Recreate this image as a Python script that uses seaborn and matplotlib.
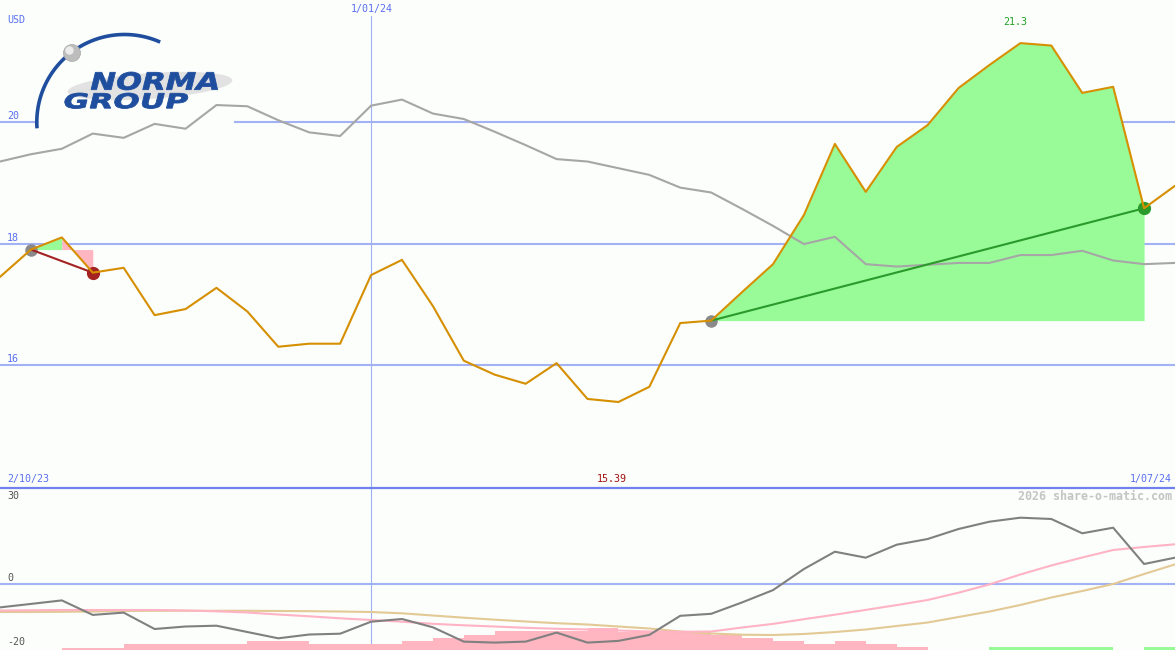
import numpy as np
import matplotlib
matplotlib.use("Agg")
import matplotlib.pyplot as plt
import seaborn as sns
from matplotlib.patches import Rectangle, Circle, Ellipse, PathPatch
from matplotlib.lines import Line2D
from matplotlib.textpath import TextPath
from matplotlib.font_manager import FontProperties
from matplotlib.transforms import Affine2D, IdentityTransform

# ---------------- data ----------------
weeks = np.arange(39)  # weekly points, 2/10/23 .. 1/07/24
price = [17.45, 17.90, 18.10, 17.52, 17.60, 16.82, 16.92, 17.27, 16.88, 16.30,
         16.35, 16.35, 17.48, 17.73, 16.97, 16.07, 15.84, 15.69, 16.03, 15.44,
         15.39, 15.64, 16.69, 16.73, 17.20, 17.66, 18.47, 19.64, 18.85, 19.59,
         19.95, 20.56, 20.94, 21.30, 21.26, 20.48, 20.58, 18.58, 18.95]
benchmark = [19.35, 19.47, 19.56, 19.81, 19.74, 19.97, 19.89, 20.28, 20.26, 20.03,
             19.83, 19.77, 20.27, 20.37, 20.14, 20.05, 19.84, 19.62, 19.39, 19.35,
             19.24, 19.13, 18.92, 18.84, 18.57, 18.29, 17.99, 18.11, 17.66, 17.62,
             17.65, 17.68, 17.68, 17.81, 17.81, 17.88, 17.72, 17.66, 17.68]
momentum = [-8.17, -6.97, -5.76, -10.76, -9.97, -15.62, -14.76, -14.48, -16.66, -18.83,
            -17.52, -17.24, -13.10, -12.17, -15.03, -19.97, -20.31, -19.97, -16.86, -20.31,
            -19.72, -17.66, -11.07, -10.38, -6.45, -2.21, 5.07, 11.03, 8.97, 13.45,
            15.41, 18.86, 21.38, 22.76, 22.31, 17.38, 19.31, 6.79, 8.97]
mom_fast = [-9.24, -9.17, -9.07, -9.07, -9.07, -9.07, -9.24, -9.52, -9.93, -10.62,
            -11.24, -11.93, -12.52, -13.10, -13.83, -14.34, -14.76, -15.21, -15.55, -15.79,
            -16.14, -16.48, -16.59, -16.48, -15.10, -13.86, -12.24, -10.69, -9.03, -7.38,
            -5.62, -3.10, -0.24, 3.17, 6.28, 9.03, 11.62, 12.66, 13.59]
mom_slow = [-9.76, -9.76, -9.69, -9.59, -9.41, -9.34, -9.34, -9.34, -9.34, -9.41,
            -9.48, -9.59, -9.76, -10.21, -10.97, -11.72, -12.41, -13.03, -13.62, -14.07,
            -14.76, -15.45, -16.48, -17.17, -17.59, -17.69, -17.34, -16.66, -15.79, -14.59,
            -13.38, -11.48, -9.59, -7.34, -4.76, -2.52, -0.10, 3.34, 6.66]
# signal bars, one per week interval (negative = pink, positive = green)
signal = [0, 0, -0.8, -0.8, -2.1, -2.1, -2.1, -2.1, -3.1, -3.1,
          -2.1, -2.1, -2.1, -3.1, -4.0, -5.2, -6.7, -6.7, -6.7, -7.7,
          -6.3, -6.3, -6.3, -5.2, -4.2, -3.1, -2.1, -3.1, -2.1, -0.9,
          0, 0, 0.9, 0.9, 0.9, 0.9, 0, 0.9]
price_ticks = [20, 18, 16]
osc_ticks = ["30", "0", "-20"]
start_date, mid_date, end_date = "2/10/23", "1/01/24", "1/07/24"
mid_week = 12
currency = "USD"
trades = [(1, 3), (23, 37)]
hi_label, lo_label = "21.3", "15.39"

# ---------------- style ----------------
sns.set_style("white")
W, H = 1175, 650
BG = "#fbfefb"
GRID = "#a3b1f5"
VGRID = "#9fb0f8"
BLUE_TXT = "#5a6ff0"
GREEN_FILL = "#98fb98"
PINK_FILL = "#ffb6c1"
MONO = "DejaVu Sans Mono"

fig = plt.figure(figsize=(W / 100, H / 100), dpi=100)
fig.patch.set_facecolor(BG)
tr = Affine2D().scale(1, -1).translate(0, H)  # pixel (y down) -> display

TOP_H = 487
ax = fig.add_axes([0, (H - TOP_H) / H, 1, TOP_H / H])
axb = fig.add_axes([0, 0, 1, (H - TOP_H) / H])
for a in (ax, axb):
    a.set_facecolor(BG)
    a.axis("off")

# ---------------- top panel ----------------
for v in price_ticks:
    ax.axhline(v, color=GRID, lw=1.5, zorder=1)
    ax.annotate(str(v), xy=(0, v), xytext=(7, 6), textcoords="offset pixels",
                ha="left", va="center", color=BLUE_TXT, fontsize=7.2, family=MONO,
                annotation_clip=False)
ax.axvline(mid_week, ymin=0, ymax=1 - 16 / TOP_H, color=VGRID, lw=0.8, zorder=1)

# logo block (background hides grid)
ax.add_patch(Rectangle((35, 28), 199, 100, transform=tr, facecolor=BG,
                       edgecolor="none", zorder=1.2))
ax.add_patch(Ellipse((150, 86), 165, 26, angle=-4, transform=tr,
                     facecolor="#e2e2e2", edgecolor="none", zorder=1.25))
ang = np.radians(np.linspace(66, 184, 120))
cx, cy, r = 124.5, 122.2, 87.7
ax.add_line(Line2D(cx + r * np.cos(ang), cy - r * np.sin(ang), transform=tr,
                   color="#1f4e9e", lw=2.6, zorder=1.3, solid_capstyle="butt"))
ax.add_patch(Circle((72, 53), 8.5, transform=tr, facecolor="#bdbdbd",
                    edgecolor="#a8a8a8", lw=0.5, zorder=1.35))
ax.add_patch(Circle((69.5, 50.5), 4.2, transform=tr, facecolor="#ececec",
                    edgecolor="none", zorder=1.36))


def logo_text(s, x0, ytop, x1, ybot, skew=14):
    prop = FontProperties(family="DejaVu Sans", weight="bold")
    tp = TextPath((0, 0), s, size=100, prop=prop)
    ext = tp.get_extents()
    h = ybot - ytop
    shift = np.tan(np.radians(skew)) * h
    w = (x1 - x0) - shift
    t = (Affine2D().translate(-ext.x0, -ext.y0)
         .scale(w / ext.width, h / ext.height)
         .skew_deg(skew, 0)
         .translate(x0, H - ybot))
    ax.add_patch(PathPatch(t.transform_path(tp), facecolor="#1f4e9e",
                           edgecolor="#1f4e9e", lw=0.6, transform=IdentityTransform(),
                           zorder=1.4))


logo_text("NORMA", 91, 72, 222, 90)
logo_text("GROUP", 63, 93, 189, 108.5)

# benchmark and price lines
sns.lineplot(x=weeks, y=benchmark, ax=ax, color="#a6a6a6", lw=1.5, zorder=2)

for (s, e) in trades:
    base = price[s]
    # colour of each segment by where it ends relative to the entry price
    cols = [GREEN_FILL if price[i + 1] >= base else PINK_FILL for i in range(s, e)]
    j = 0
    while j < len(cols):
        k = j
        while k + 1 < len(cols) and cols[k + 1] == cols[j]:
            k += 1
        a0, a1 = s + j, s + k + 1
        ax.fill_between(weeks[a0:a1 + 1], price[a0:a1 + 1], base, color=cols[j],
                        lw=0, zorder=1.5)
        j = k + 1
    won = price[e] >= base
    ax.plot([weeks[s], weeks[e]], [price[s], price[e]],
            color="#2a9a2a" if won else "#a52222", lw=1.5, zorder=2.6)
    ax.plot(weeks[s], price[s], "o", ms=8, color="#8a8a8a", zorder=2.5)
    ax.plot(weeks[e], price[e], "o", ms=8.5, color="#2a9a2a" if won else "#a52222",
            zorder=2.5)

sns.lineplot(x=weeks, y=price, ax=ax, color="#d68f00", lw=1.5, zorder=3)

imax = int(np.argmax(price))
ax.annotate(hi_label, xy=(weeks[imax], price[imax]), xytext=(-5, 21),
            textcoords="offset pixels", ha="center", va="center",
            color="#22a022", fontsize=7.2, family=MONO)

ax.set_xlim(0, 38)
ax.set_ylim(13.99, 22.01)

# ---------------- bottom panel ----------------
ylo, yhi = -22.86, 33.34
axb.axhline(0, color=GRID, lw=1.5, zorder=1)
axb.axvline(mid_week, color=VGRID, lw=0.8, zorder=1)
sig = np.array(signal)
axb.bar(weeks[:-1], np.abs(sig), width=1.0, align="edge", bottom=ylo,
        color=[GREEN_FILL if v > 0 else PINK_FILL for v in sig], lw=0, zorder=1.5)
sns.lineplot(x=weeks, y=mom_slow, ax=axb, color="#e3c995", lw=1.5, zorder=2)
sns.lineplot(x=weeks, y=mom_fast, ax=axb, color="#ffb3c4", lw=1.5, zorder=2.1)
sns.lineplot(x=weeks, y=momentum, ax=axb, color="#808080", lw=1.5, zorder=2.2)
axb.set_xlim(0, 38)
axb.set_ylim(ylo, yhi)

# separator line between panels
fig.add_artist(Line2D([0, W], [487.5, 487.5], transform=tr, color="#7080ee", lw=1.6))

# ---------------- texts ----------------
def ptext(x, y, s, color, ha="left", size=7.2, weight="normal"):
    fig.text(x, y, s, transform=tr, ha=ha, va="center", color=color,
             fontsize=size, family=MONO, fontweight=weight)


ptext(7, 20, currency, BLUE_TXT)
ptext(372, 9, mid_date, BLUE_TXT, ha="center")
ptext(7, 479, start_date, BLUE_TXT)
ptext(611.5, 479, lo_label, "#a01010", ha="center")
ptext(1172, 479, end_date, BLUE_TXT, ha="right")
ptext(1172, 496, "2026 share-o-matic.com", "#c4c4c4", ha="right", size=8.4,
      weight="bold")
for lab, yp in zip(osc_ticks, [496, 577.7, 641.7]):
    ptext(7, yp, lab, "#555555")

fig.savefig("out.png", dpi=100, facecolor=BG)
